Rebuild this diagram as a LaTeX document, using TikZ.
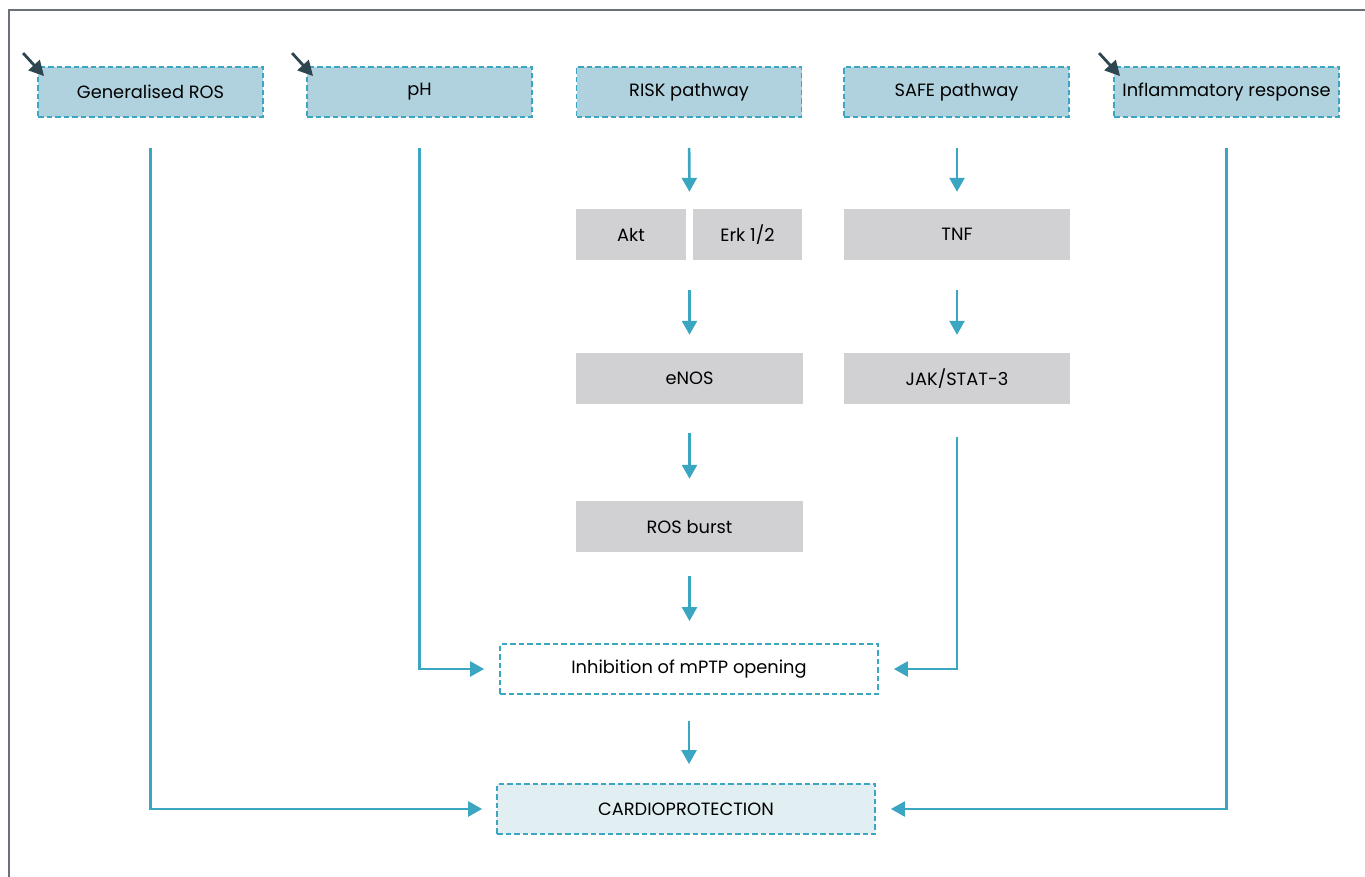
\documentclass[tikz,border=0pt]{standalone}
\usepackage{fontspec}
\setmainfont{Poppins}
\usetikzlibrary{arrows.meta,calc}
\definecolor{teal}{HTML}{3AA6C1}
\definecolor{boxblue}{HTML}{B0D2DE}
\definecolor{boxgray}{HTML}{D1D0D3}
\definecolor{cardio}{HTML}{E1EEF2}
\definecolor{frame}{HTML}{6B7178}
\definecolor{darkarr}{HTML}{2D4650}
\tikzset{
  every node/.style={font=\fontsize{17.8}{20}\selectfont, text=black},
  topbox/.style={draw=teal, dash pattern=on 5.5pt off 3pt, line width=1.8pt, fill=boxblue, minimum width=225pt, minimum height=50pt, inner sep=0pt},
  graybox/.style={fill=boxgray, minimum height=51pt, inner sep=0pt},
  whitebox/.style={draw=teal, dash pattern=on 5.5pt off 3pt, line width=1.8pt, fill=white, minimum width=378pt, minimum height=50pt, inner sep=0pt},
  cardiobox/.style={draw=teal, dash pattern=on 5.5pt off 3pt, line width=1.8pt, fill=cardio, minimum width=378pt, minimum height=50pt, inner sep=0pt},
  arr/.style={draw=teal, line width=2.6pt, -{Triangle[width=15pt,length=14pt]}},
  darr/.style={draw=darkarr, line width=2.8pt, -{Triangle[width=15pt,length=15pt]}},
}
\begin{document}
\begin{tikzpicture}[x=1pt,y=-1pt]
\useasboundingbox (0,0) rectangle (1365,877);
\draw[frame, line width=2pt] (9,877) -- (9,10) -- (1365,10);

\node[topbox] (gen) at (150.5,92) {Generalised ROS};
\node[topbox] (ph) at (419.5,92) {pH};
\node[topbox] (risk) at (689,92) {RISK pathway};
\node[topbox] (safe) at (956.5,92) {SAFE pathway};
\node[topbox] (infl) at (1226.5,92) {Inflammatory response};

\node[graybox, minimum width=110pt] (akt) at (631,234.5) {Akt};
\node[graybox, minimum width=109pt] (erk) at (747.5,234.5) {Erk 1/2};
\node[graybox, minimum width=226pt] (tnf) at (957,234.5) {TNF};
\node[graybox, minimum width=227pt] (enos) at (689.5,378.5) {eNOS};
\node[graybox, minimum width=226pt] (jak) at (957,378.5) {JAK/STAT-3};
\node[graybox, minimum width=227pt] (burst) at (689.5,526.5) {ROS burst};

\node[whitebox] (inhib) at (689,669) {Inhibition of mPTP opening};
\node[cardiobox] (cardp) at (686,809) {CARDIOPROTECTION};

\coordinate (akterk) at ($(akt.north east)!0.5!(erk.north west)$);

% short vertical arrows
\draw[arr, shorten <=30pt, shorten >=17pt] (risk.south) -- (akterk);
\draw[arr, shorten <=30pt, shorten >=17pt] (safe.south -| tnf.north) -- (tnf.north);
\draw[arr, shorten <=30pt, shorten >=18pt] (akterk |- akt.south) -- (enos.north -| akterk);
\draw[arr, shorten <=30pt, shorten >=18pt] (tnf.south) -- (jak.north);
\draw[arr, shorten <=29pt, shorten >=22pt] (enos.south -| akterk) -- (burst.north -| akterk);
\draw[arr, shorten <=24pt, shorten >=22pt] (burst.south -| akterk) -- (inhib.north -| akterk);
\draw[arr, shorten <=26pt, shorten >=19pt] (inhib.south) -- (inhib.south |- cardp.north);

% long elbow connectors
\draw[arr, shorten <=30pt, shorten >=14pt] (gen.south) |- (cardp.west);
\draw[arr, shorten <=30pt, shorten >=15pt] (ph.south) |- (inhib.west);
\draw[arr, shorten <=33pt, shorten >=15pt] (jak.south) |- (inhib.east);
\draw[arr, shorten <=30pt, shorten >=15pt] (infl.south) |- (cardp.east);

% dark pointer arrows
\foreach \n in {gen,ph,infl}{
  \coordinate (\n-s) at ($(\n.north west)+(-14,-13)$);
  \coordinate (\n-t) at ($(\n.north west)+(7,10)$);
  \draw[darr] (\n-s) -- (\n-t);
}
\end{tikzpicture}
\end{document}
